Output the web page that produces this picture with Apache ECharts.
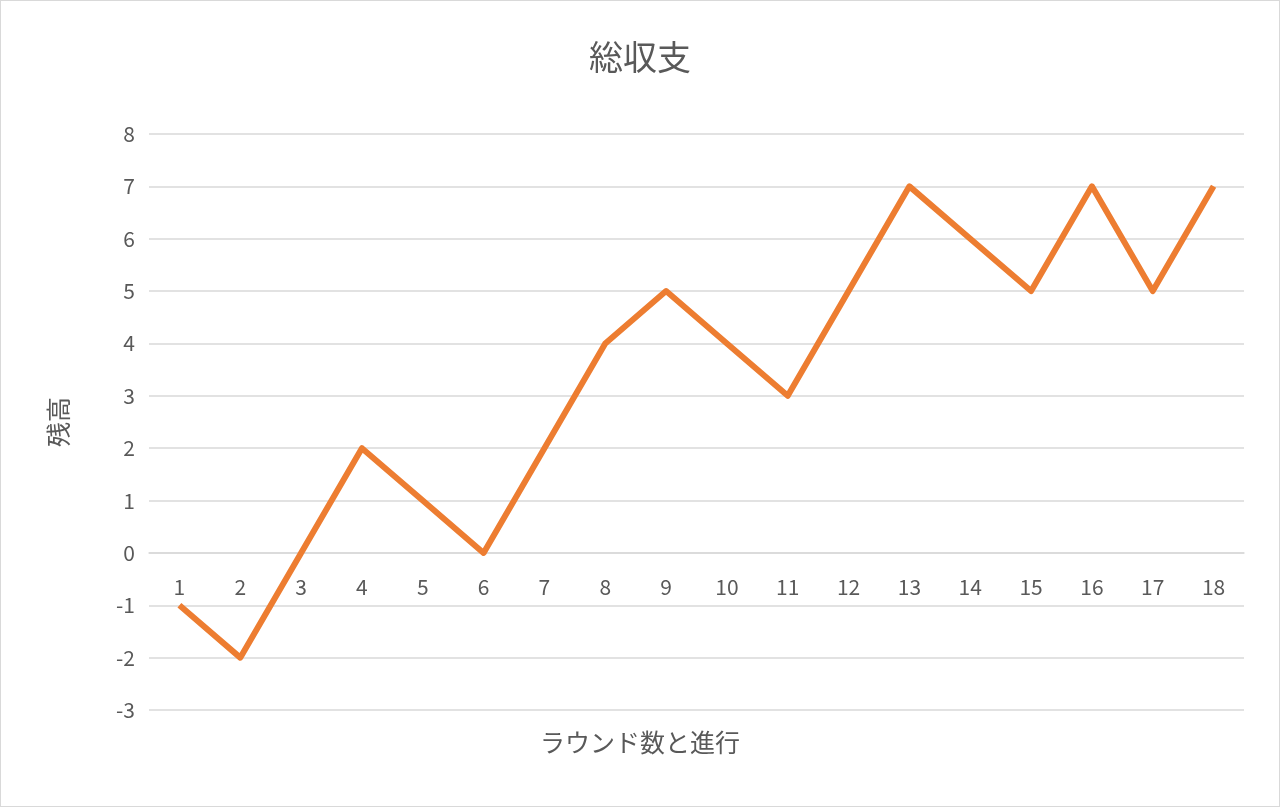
<!DOCTYPE html>
<html><head><meta charset="utf-8">
<script src="https://cdn.jsdelivr.net/npm/echarts@6/dist/echarts.min.js"></script>
<style>html,body{margin:0;padding:0;background:#fff}#c{width:1280px;height:807px;box-sizing:border-box;border:1px solid #d9d9d9}</style>
</head><body><div id="c"></div>
<script>
const categories=['1','2','3','4','5','6','7','8','9','10','11','12','13','14','15','16','17','18'];
const values=[-1,-2,0,2,1,0,2,4,5,4,3,5,7,6,5,7,5,7];
const chartTitle='総収支';
const xName='ラウンド数と進行';
const yName='残高';
const font='"Noto Sans CJK JP","Noto Sans",sans-serif';
const chart=echarts.init(document.getElementById('c'));
const gridH=807-133-96;
chart.setOption({
  animation:false,
  title:[{text:chartTitle,left:'center',top:34,textStyle:{fontFamily:font,fontSize:34,fontWeight:'normal',color:'#595959'}},
         {text:xName,left:'center',top:724,textStyle:{fontFamily:font,fontSize:25,fontWeight:'normal',color:'#595959'}}],
  grid:{left:148,right:35,top:133,bottom:96,containLabel:false},
  xAxis:{type:'category',data:categories,boundaryGap:true,position:'bottom',offset:-gridH*3/11,
    axisLine:{show:true,onZero:false,lineStyle:{color:'#d9d9d9',width:1.5}},axisTick:{show:false},
    axisLabel:{color:'#595959',fontSize:21,fontFamily:font,margin:24}},
  yAxis:{type:'value',min:-3,max:8,interval:1,name:yName,nameLocation:'middle',nameGap:78,
    nameTextStyle:{color:'#595959',fontSize:25,fontFamily:font},
    axisLine:{show:false},axisTick:{show:false},
    axisLabel:{color:'#595959',fontSize:21,fontFamily:font,margin:14},
    splitLine:{lineStyle:{color:'#d9d9d9',width:1.5}}},
  series:[{type:'line',data:values,symbol:'none',lineStyle:{color:'#ED7D31',width:6,join:'round'},itemStyle:{color:'#ED7D31'}}]
});
</script></body></html>
